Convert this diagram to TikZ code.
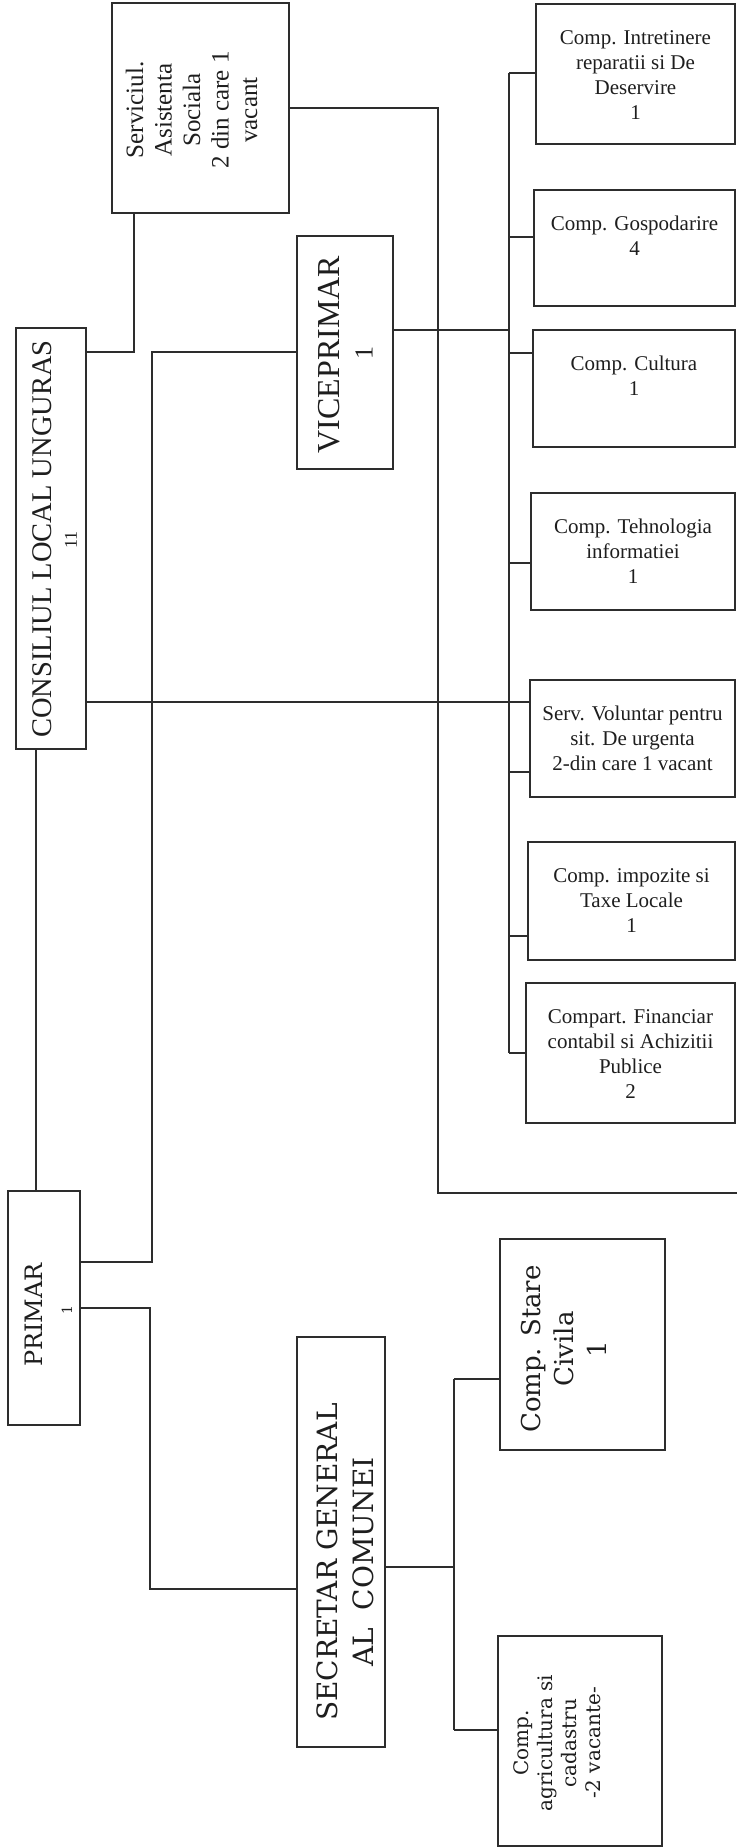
\documentclass[tikz,border=0pt]{standalone}
\usepackage{fontspec}
\setmainfont{Liberation Serif}
\newfontfamily\dvs{DejaVu Serif}
\usetikzlibrary{fit}
\definecolor{linec}{RGB}{45,45,45}
\definecolor{textc}{RGB}{30,30,30}
\begin{document}
\begin{tikzpicture}[x=0.5pt,y=-0.5pt,
  box/.style={draw=linec,line width=1.1pt,inner sep=0pt,rectangle},
  conn/.style={draw=linec,line width=1.1pt},
  txt/.style={inner sep=0pt,align=center,text=textc},
  rtxt/.style={txt,anchor=north,font=\fontsize{10.5}{12.5}\selectfont}]
\useasboundingbox (0,0) rectangle (737,1848);
% boxes
\node[box,fit={(112,3)(289,213)}] (serv) {};
\node[box,fit={(16,328)(86,749)}] (cons) {};
\node[box,fit={(297,236)(393,469)}] (vice) {};
\node[box,fit={(8,1191)(80,1425)}] (primar) {};
\node[box,fit={(297,1337)(385,1747)}] (secr) {};
\node[box,fit={(500,1239)(665,1450)}] (stare) {};
\node[box,fit={(498,1636)(662,1846)}] (agri) {};
\node[box,fit={(536,4)(735,144)}] (intr) {};
\node[box,fit={(534,190)(735,306)}] (gosp) {};
\node[box,fit={(533,330)(735,447)}] (cult) {};
\node[box,fit={(531,493)(735,610)}] (tehn) {};
\node[box,fit={(530,680)(735,797)}] (volu) {};
\node[box,fit={(528,842)(735,960)}] (impo) {};
\node[box,fit={(526,983)(735,1123)}] (fina) {};
% right box texts
\node[rtxt] (intrT) at (635.5,30) {Comp. Intretinere\\reparatii si De\\Deservire\\1};
\node[rtxt] (gospT) at (634.5,216) {Comp. Gospodarire\\4};
\node[rtxt] (cultT) at (634,356) {Comp. Cultura\\1};
\node[rtxt] (tehnT) at (633,519) {Comp. Tehnologia\\informatiei\\1};
\node[rtxt] (voluT) at (632.5,706) {Serv. Voluntar pentru\\sit. De urgenta\\2-din care 1 vacant};
\node[rtxt] (impoT) at (631.5,868) {Comp. impozite si\\Taxe Locale\\1};
\node[rtxt] (finaT) at (630.5,1009) {Compart. Financiar\\contabil si Achizitii\\Publice\\2};
% rotated texts
\node[txt,rotate=90,font=\fontsize{12.5}{14.25}\selectfont] (servT) at (191.5,110) {Serviciul.\\Asistenta\\Sociala\\2 din care 1\\vacant};
\node[txt,rotate=90,font=\fontsize{14.25}{14.25}\selectfont] (consT) at (42.5,539) {CONSILIUL LOCAL UNGURAS};
\node[txt,rotate=90,font=\fontsize{9}{9}\selectfont] (consN) at (71,540) {11};
\node[txt,rotate=90,font=\fontsize{16}{16}\selectfont] (viceT) at (329.5,354.5) {VICEPRIMAR};
\node[txt,rotate=90,font=\fontsize{13}{13}\selectfont] (viceN) at (364,353) {1};
\node[txt,rotate=90,font=\dvs\fontsize{12}{12}\selectfont] (primT) at (34,1315) {PRIMAR};
\node[txt,rotate=90,font=\dvs\fontsize{7}{7}\selectfont] (primN) at (67,1310) {1};
\node[txt,rotate=90,font=\dvs\fontsize{14}{18}\selectfont] (secrT) at (345,1562) {SECRETAR GENERAL\\AL\ \ COMUNEI};
\node[txt,rotate=90,font=\dvs\fontsize{13}{16.5}\selectfont] (stareT) at (563.5,1349) {Comp. Stare\\Civila\\1};
\node[txt,rotate=90,font=\dvs\fontsize{10}{12}\selectfont] (agriT) at (557,1743) {Comp.\\agricultura si\\cadastru\\-2 vacante-};
% coordinates
\coordinate (c1) at (134,352);
\coordinate (c2) at (438,108);
\coordinate (c2e) at (737,1193);
\coordinate (c3) at (152,352);
\coordinate (c3b) at (80,1262);
\coordinate (bV) at (509,330);
\coordinate (bI) at (509,73);
\coordinate (bG) at (509,237);
\coordinate (bC) at (509,353);
\coordinate (bT) at (509,563);
\coordinate (bVo) at (509,772);
\coordinate (bIm) at (509,936);
\coordinate (bF) at (509,1053);
\coordinate (cv) at (86,702);
\coordinate (cp) at (36,0);
\coordinate (ps1) at (150,1308);
\coordinate (ps2) at (150,1589);
\coordinate (sx) at (454,1567);
\coordinate (sS) at (454,1379);
\coordinate (sA) at (454,1730);
% connectors
\draw[conn] (serv.south -| c1) |- (cons.east |- c1);
\draw[conn] (serv.east |- c2) -- (c2) |- (c2e);
\draw[conn] (vice.west |- c3) -- (c3) |- (primar.east |- c3b);
\draw[conn] (vice.east |- bV) -- (bV);
\draw[conn] (bI) -- (bF);
\draw[conn] (bI) -- (intr.west |- bI);
\draw[conn] (bG) -- (gosp.west |- bG);
\draw[conn] (bC) -- (cult.west |- bC);
\draw[conn] (bT) -- (tehn.west |- bT);
\draw[conn] (bVo) -- (volu.west |- bVo);
\draw[conn] (bIm) -- (impo.west |- bIm);
\draw[conn] (bF) -- (fina.west |- bF);
\draw[conn] (cons.east |- cv) -- (volu.west |- cv);
\draw[conn] (cons.south -| cp) -- (primar.north -| cp);
\draw[conn] (primar.east |- ps1) -- (ps1) -- (ps2) -- (secr.west |- ps2);
\draw[conn] (secr.east |- sx) -- (sx);
\draw[conn] (sS) -- (sA);
\draw[conn] (sS) -- (stare.west |- sS);
\draw[conn] (sA) -- (agri.west |- sA);
\end{tikzpicture}
\end{document}
